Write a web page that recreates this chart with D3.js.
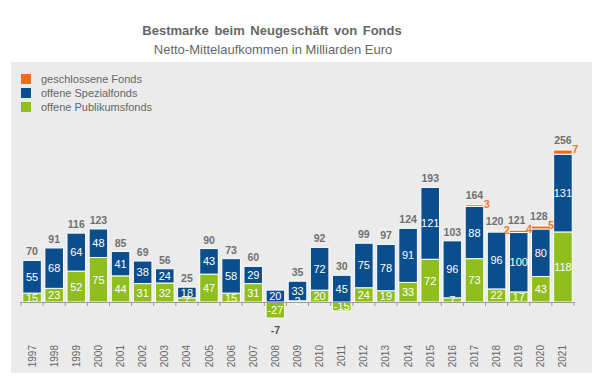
<!DOCTYPE html>
<html><head><meta charset="utf-8">
<script src="https://cdn.jsdelivr.net/npm/d3@7/dist/d3.min.js"></script>
<style>body{margin:0;background:#fff}svg{display:block;font-family:"Liberation Sans",Arial,sans-serif}</style>
</head><body><svg id="c" width="600" height="379"></svg>
<script>
const years = ["1997","1998","1999","2000","2001","2002","2003","2004","2005","2006","2007","2008","2009","2010","2011","2012","2013","2014","2015","2016","2017","2018","2019","2020","2021"];
const publikum = [15,23,52,75,44,31,32,7,47,15,31,-27,2,20,-15,24,19,33,72,7,73,22,17,43,118];
const spezial = [55,68,64,48,41,38,24,18,43,58,29,20,33,72,45,75,78,91,121,96,88,96,100,80,131];
const geschlossen = [0,0,0,0,0,0,0,0,0,0,0,0,0,0,0,0,0,0,0,0,3,2,4,5,7];
const totals = [70,91,116,123,85,69,56,25,90,73,60,-7,35,92,30,99,97,124,193,103,164,120,121,128,256];
const seriesNames = ["geschlossene Fonds","offene Spezialfonds","offene Publikumsfonds"];
const colors = {orange:"#f26a1b", blue:"#0a4e8d", green:"#8fbe1d"};

const svg = d3.select("#c");
svg.append("rect").attr("x",11).attr("y",62).attr("width",581).attr("height",311).attr("fill","#ebebeb");

svg.append("text").attr("x",272).attr("y",35).attr("text-anchor","middle")
  .attr("font-size",13).attr("font-weight","bold").attr("fill","#666").attr("word-spacing",2)
  .text("Bestmarke beim Neugeschäft von Fonds");
svg.append("text").attr("x",273).attr("y",54).attr("text-anchor","middle")
  .attr("font-size",13).attr("fill","#666")
  .text("Netto-Mittelaufkommen in Milliarden Euro");

// legend
const legCols = [colors.orange, colors.blue, colors.green];
seriesNames.forEach((n,i)=>{
  const y0 = 79 + i*14;
  svg.append("rect").attr("x",21).attr("y",y0-5).attr("width",10).attr("height",10).attr("fill",legCols[i]);
  svg.append("text").attr("x",41).attr("y",y0+4).attr("font-size",11).attr("fill","#666").text(n);
});

const x = d3.scaleBand().domain(years).range([21,574]).paddingInner(0.16).paddingOuter(0.08);
const y = d3.scaleLinear().domain([0,256]).range([302,150]);
const bw = x.bandwidth();

const data = years.map((yr,i)=>{
  const p = publikum[i], s = spezial[i], c = geschlossen[i];
  const segs = [];
  if (p >= 0) {
    segs.push({y0:0,y1:p,col:colors.green,v:p});
    segs.push({y0:p,y1:p+s,col:colors.blue,v:s});
    if (c>0) segs.push({y0:p+s,y1:p+s+c,col:colors.orange,v:c,orange:true});
  } else {
    segs.push({y0:p,y1:0,col:colors.green,v:p});
    segs.push({y0:0,y1:s,col:colors.blue,v:s});
    if (c>0) segs.push({y0:s,y1:s+c,col:colors.orange,v:c,orange:true});
  }
  return {yr,i,p,s,c,segs,top:Math.max(p,0)+s+c,tot:totals[i]};
});

const gb = svg.append("g"), gl = svg.append("g");
data.forEach(d=>{
  d.segs.forEach(sg=>{
    gb.append("rect").attr("x",x(d.yr)).attr("width",bw)
      .attr("y",y(sg.y1)).attr("height",y(sg.y0)-y(sg.y1))
      .attr("fill",sg.col).attr("stroke","#fff").attr("stroke-width",1);
  });
});
data.forEach(d=>{
  const mid = d.i>=21 && d.i<=23;
  d.segs.forEach(sg=>{
    if (sg.orange) {
      gl.append("text").attr("x",x(d.yr)+bw+(mid?-2:0)).attr("y",y(sg.y1)+3)
        .attr("font-size",11).attr("font-weight","bold").attr("fill","#ee7a2a").text(sg.v);
    } else {
      gl.append("text").attr("x",x(d.yr)+bw/2).attr("y",(y(sg.y0)+y(sg.y1))/2+4)
        .attr("text-anchor","middle").attr("font-size",11).attr("fill","#fff").text(sg.v);
    }
  });
  if (d.tot >= 0) {
    const dx = d.c>0 && mid ? -2 : 0;
    gl.append("text").attr("x",x(d.yr)+bw/2+dx).attr("y",y(d.top)-(d.c>0?6:5))
      .attr("text-anchor","middle").attr("font-size",10.5).attr("font-weight","bold").attr("fill","#707070").text(d.tot);
  } else {
    gl.append("text").attr("x",x(d.yr)+bw/2).attr("y",y(d.p)+16)
      .attr("text-anchor","middle").attr("font-size",10.5).attr("font-weight","bold").attr("fill","#555").text(d.tot);
  }
});

// axis line and ticks
svg.append("line").attr("x1",20).attr("x2",575).attr("y1",302.5).attr("y2",302.5).attr("stroke","#9a9a9a");
const tickXs = [x.range()[0]].concat(years.map(yr=>x(yr)+bw+x.step()*x.paddingInner()/2));
tickXs.forEach(t=>{
  svg.append("line").attr("x1",t).attr("x2",t).attr("y1",302.5).attr("y2",306).attr("stroke","#9a9a9a");
});
years.forEach(yr=>{
  const cx = x(yr)+bw/2;
  svg.append("text").attr("transform",`translate(${cx+3.5},345) rotate(-90)`)
    .attr("text-anchor","end").attr("font-size",10).attr("fill","#666").text(yr);
});
</script></body></html>
